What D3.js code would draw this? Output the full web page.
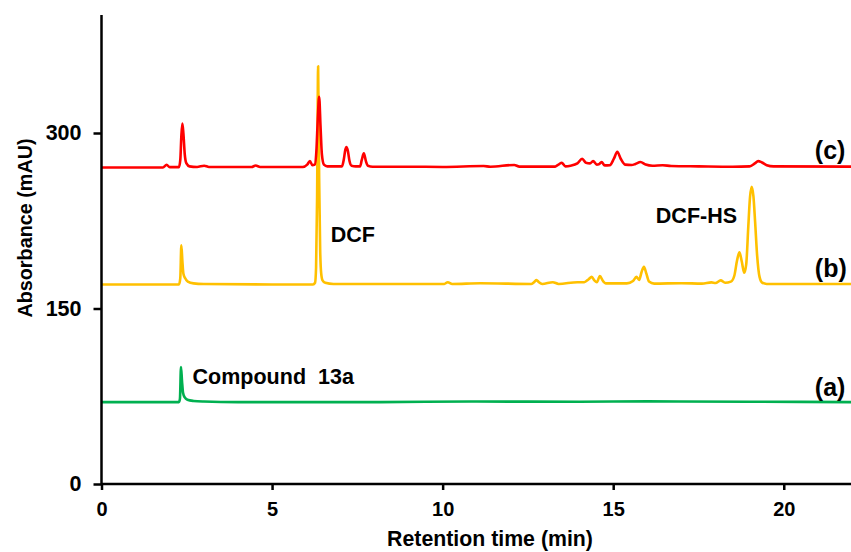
<!DOCTYPE html>
<html><head><meta charset="utf-8">
<script src="https://cdn.jsdelivr.net/npm/d3@7"></script>
<style>body{margin:0;background:#fff;} text{font-family:Arial,"Liberation Sans",sans-serif;font-weight:bold;}</style>
</head><body><svg id="c" width="851" height="552"></svg>
<script>
// Trace (a): Compound 13a  [time (min), absorbance (mAU)]
const traceA = [[0,70],[1.5,70],[2.27,70],[2.30,73],[2.33,100],[2.36,88],[2.39,78],[2.44,74],[2.52,72],[2.7,71],[3.0,70.5],[4,70],[8,70],[11,70.5],[14,70.3],[16,70.6],[19,70.3],[22,70]];
// Trace (b): DCF + DCF-HS
const traceB = [[0,170.5],[2.27,170.5],[2.31,176],[2.34,204],[2.37,191],[2.40,180],[2.45,176],[2.53,173],[2.7,171.5],[3.0,171],[5,170.5],[6.2,170.5],[6.26,172],[6.29,185],[6.32,245],[6.35,357],[6.38,262],[6.41,200],[6.44,180],[6.48,174],[6.56,172],[6.8,171],[8,171],[10.05,171],[10.15,172.5],[10.28,171],[11.1,171.6],[12.6,171],[12.7,173],[12.75,174.4],[12.82,172.5],[12.92,171],[13.23,172.5],[13.4,171],[13.95,172.5],[14.15,172.5],[14.28,175],[14.37,177],[14.45,174],[14.52,172.5],[14.61,177.7],[14.7,173.5],[14.78,171.5],[15.4,171.5],[15.58,173.5],[15.68,177],[15.76,174.5],[15.83,181],[15.9,185.7],[15.97,180],[16.05,173],[16.2,171.3],[17.0,171.6],[17.6,171.3],[17.88,172.3],[18.0,171.8],[18.15,174],[18.28,172],[18.45,173],[18.55,178],[18.63,191],[18.7,198],[18.77,190],[18.84,180.5],[18.9,188],[18.96,220],[19.01,245],[19.06,254],[19.11,246],[19.16,224],[19.22,195],[19.29,177],[19.37,172],[19.5,171],[20,171],[22,171]];
// Trace (c): reaction mixture
const traceC = [[0,270.5],[1.8,270.5],[1.91,272.8],[2.0,270.8],[2.27,270.8],[2.31,277],[2.34,297],[2.37,308],[2.40,300],[2.44,282],[2.49,274],[2.58,271.5],[2.8,271],[3.01,272],[3.15,271],[4.4,271],[4.52,272.2],[4.65,271],[5.9,271],[6.03,273],[6.11,276],[6.18,272.5],[6.25,273],[6.30,285],[6.34,312],[6.38,331],[6.42,306],[6.46,282],[6.52,273],[6.62,271.5],[7.05,271.5],[7.1,277],[7.15,286],[7.18,288],[7.22,285],[7.27,276],[7.33,272],[7.45,271.5],[7.58,271.5],[7.63,277],[7.69,282.6],[7.75,276],[7.81,272],[7.95,271.2],[9,271.2],[10,271],[11.2,271.8],[11.4,271.2],[12.1,272.7],[12.25,271.3],[13.3,271.3],[13.42,273.5],[13.49,274.6],[13.6,271.5],[13.75,272],[13.95,274],[14.09,278],[14.2,274.5],[14.32,274],[14.41,276],[14.52,273],[14.58,273.2],[14.66,275.2],[14.75,272.3],[14.9,272.5],[15.02,278],[15.12,284],[15.22,278],[15.35,273],[15.54,272.6],[15.65,273.5],[15.8,275.2],[15.95,273],[16.15,272],[16.45,272.4],[16.7,271.8],[17.5,271.5],[18.5,271.2],[19.0,271.5],[19.15,274],[19.25,276],[19.35,275],[19.5,272.5],[19.7,271.5],[22,271.3]];

const xTicks = [0,5,10,15,20];
const yTicks = [0,150,300];
const traces = [
  {name:"(a)", data:traceA, color:"#00B050"},
  {name:"(b)", data:traceB, color:"#FFC000"},
  {name:"(c)", data:traceC, color:"#FF0000"}
];
const seriesLabels = [{text:"(a)", t:20.91, v:75.5},{text:"(b)", t:20.91, v:176.5},{text:"(c)", t:20.91, v:277.5}];
const peakLabels = [{text:"DCF", t:6.72, v:206.8},{text:"DCF-HS", t:16.25, v:223.3},{text:"Compound\u00A0\u00A013a", t:2.67, v:85.5}];

const svg = d3.select("#c");
const x = d3.scaleLinear().domain([0,22]).range([101.5,852]);
const y = d3.scaleLinear().domain([0,400]).range([484,16]);

const line = d3.line().x(d=>x(d[0])).y(d=>y(d[1])).curve(d3.curveMonotoneX);
traces.forEach(tr=>{
  svg.append("path").attr("d", line(tr.data)).attr("fill","none")
    .attr("stroke", tr.color).attr("stroke-width",2.6).attr("stroke-linejoin","round");
});

const xAxis = svg.append("g").attr("transform","translate(0,484)")
  .call(d3.axisBottom(x).tickValues(xTicks).tickSize(6).tickPadding(12).tickFormat(d3.format("d")));
const yAxis = svg.append("g").attr("transform","translate(101.5,0)")
  .call(d3.axisLeft(y).tickValues(yTicks).tickSize(8).tickPadding(12).tickFormat(d3.format("d")));
[xAxis,yAxis].forEach(g=>{
  g.select(".domain").attr("stroke","#000").attr("stroke-width",2.5);
  g.selectAll(".tick line").attr("stroke","#000").attr("stroke-width",2.5);
  g.selectAll(".tick text").attr("font-weight","bold").attr("fill","#000")
   .attr("font-family","Arial, 'Liberation Sans', sans-serif");
});
xAxis.selectAll(".tick text").attr("font-size",20);
yAxis.selectAll(".tick text").attr("font-size",21.5);
xAxis.select(".domain").attr("d","M101.5,0H852");
yAxis.select(".domain").attr("d","M0,15V484");

svg.append("text").attr("x",490).attr("y",546).attr("text-anchor","middle")
  .attr("font-size",21.3).text("Retention time (min)");
svg.append("text").attr("transform","translate(32,228) rotate(-90)").attr("text-anchor","middle")
  .attr("font-size",19.8).text("Absorbance (mAU)");

seriesLabels.forEach(l=>{
  svg.append("text").attr("x",x(l.t)).attr("y",y(l.v)).attr("font-size",25).text(l.text);
});
peakLabels.forEach(l=>{
  svg.append("text").attr("x",x(l.t)).attr("y",y(l.v)).attr("font-size",21.5).text(l.text);
});
</script></body></html>
